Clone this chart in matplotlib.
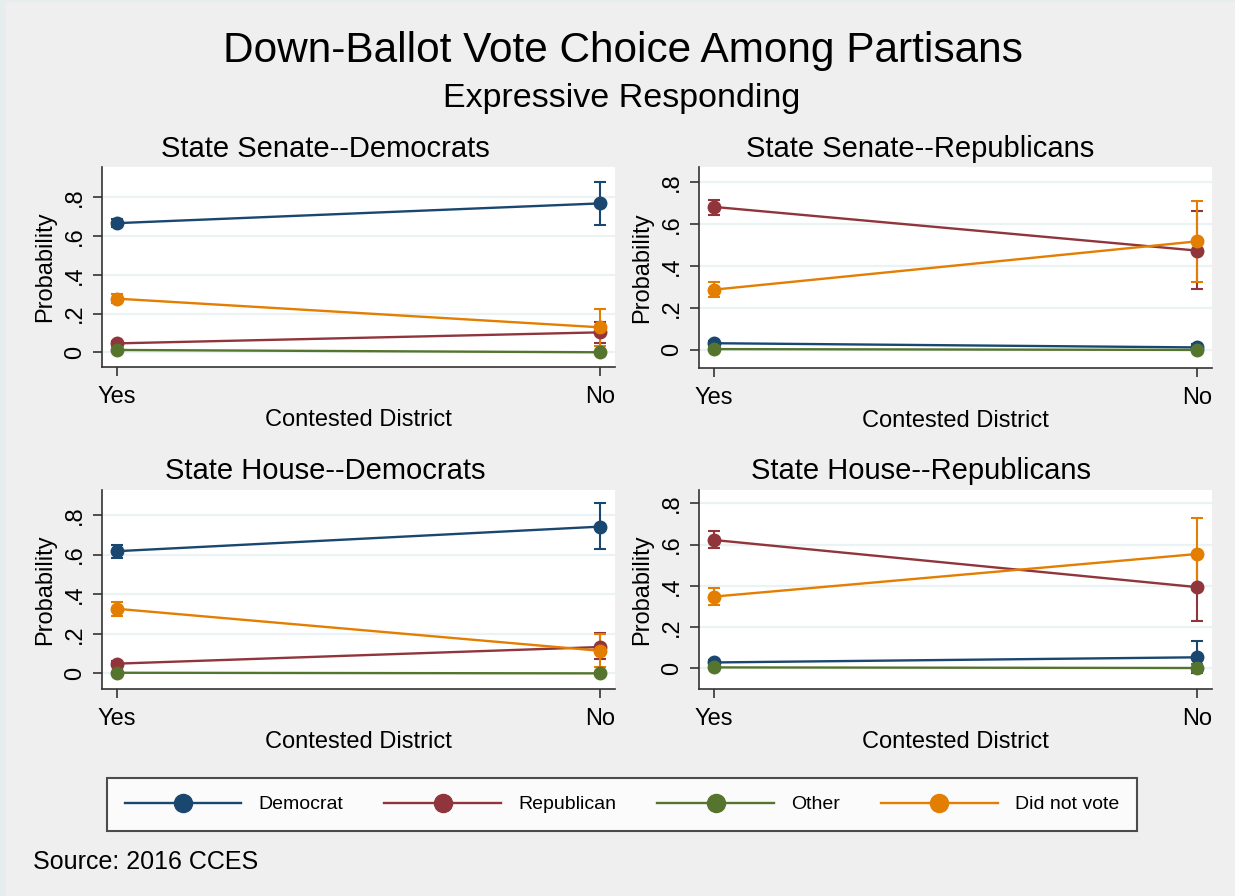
import numpy as np
import matplotlib.pyplot as plt
from matplotlib.lines import Line2D
from matplotlib.patches import Rectangle

plt.rcParams['font.family'] = ['Liberation Sans', 'DejaVu Sans']

x_labels = ["Yes", "No"]
parties = ["Democrat", "Republican", "Other", "Did not vote"]
colors = ["#1a476f", "#90353b", "#55752f", "#e37e00"]

panel_titles = ["State Senate--Democrats", "State Senate--Republicans",
                "State House--Democrats", "State House--Republicans"]

# predicted probabilities (Yes, No) per party, with 95% CI bounds
senate_dem_est = [[0.667, 0.769], [0.046, 0.103], [0.012, 0.000], [0.277, 0.129]]
senate_dem_lo = [[0.645, 0.657], [0.035, 0.046], [0.006, -0.005], [0.255, 0.035]]
senate_dem_hi = [[0.690, 0.879], [0.057, 0.157], [0.018, 0.005], [0.300, 0.225]]

senate_rep_est = [[0.032, 0.012], [0.681, 0.473], [0.004, 0.000], [0.287, 0.517]]
senate_rep_lo = [[0.022, -0.005], [0.644, 0.290], [0.000, -0.003], [0.252, 0.324]]
senate_rep_hi = [[0.042, 0.030], [0.716, 0.663], [0.008, 0.003], [0.322, 0.708]]

house_dem_est = [[0.617, 0.741], [0.049, 0.133], [0.003, 0.000], [0.326, 0.114]]
house_dem_lo = [[0.582, 0.627], [0.036, 0.074], [0.000, -0.003], [0.291, 0.030]]
house_dem_hi = [[0.650, 0.859], [0.062, 0.202], [0.006, 0.003], [0.361, 0.200]]

house_rep_est = [[0.027, 0.052], [0.622, 0.393], [0.003, 0.000], [0.347, 0.554]]
house_rep_lo = [[0.015, -0.025], [0.582, 0.228], [0.000, -0.020], [0.304, 0.381]]
house_rep_hi = [[0.039, 0.129], [0.666, 0.560], [0.006, 0.020], [0.388, 0.727]]

y_ticks = [0, 0.2, 0.4, 0.6, 0.8]
y_tick_labels = ["0", ".2", ".4", ".6", ".8"]

W, H = 1235, 896
fig = plt.figure(figsize=(W / 100, H / 100), dpi=100, facecolor="#e6eded")
fig.patches.append(Rectangle((6 / W, 0), 1, 1 - 2 / H, transform=fig.transFigure,
                             facecolor="#efefef", edgecolor="none", zorder=-10))


def add_panel(box):
    # box is (left, top, right, bottom) in pixels
    left, top, right, bottom = box
    return fig.add_axes([left / W, 1 - bottom / H, (right - left) / W, (bottom - top) / H])


panels = [
    (senate_dem_est, senate_dem_lo, senate_dem_hi, (102, 167, 615, 367), (-0.076, 0.957), (325, 149)),
    (senate_rep_est, senate_rep_lo, senate_rep_hi, (699, 167, 1212, 368), (-0.086, 0.871), (920, 149)),
    (house_dem_est, house_dem_lo, house_dem_hi, (102, 490, 615, 689), (-0.079, 0.926), (325, 471)),
    (house_rep_est, house_rep_lo, house_rep_hi, (699, 490, 1212, 689), (-0.102, 0.865), (921, 471)),
]

x = np.arange(len(x_labels))
for (est, lo, hi, box, ylim, tpos), title in zip(panels, panel_titles):
    ax = add_panel(box)
    ax.set_facecolor("white")
    for yt in y_ticks:
        ax.axhline(yt, color="#eaf2f3", lw=1.6, zorder=0)
    for i, c in enumerate(colors):
        e = np.array(est[i])
        err = [e - np.array(lo[i]), np.array(hi[i]) - e]
        ax.errorbar(x, e, yerr=err, fmt="-o", color=c, lw=1.7, ms=9,
                    capsize=4.5, elinewidth=1.5, capthick=1.5, zorder=3)
    ax.set_xlim(-0.031, 1.031)
    ax.set_ylim(*ylim)
    ax.set_xticks(x)
    ax.set_xticklabels(x_labels)
    ax.set_yticks(y_ticks)
    ax.set_yticklabels(y_tick_labels, rotation=90, va="center")
    for s in ["top", "right"]:
        ax.spines[s].set_visible(False)
    for s in ["left", "bottom"]:
        ax.spines[s].set_color("#333333")
        ax.spines[s].set_linewidth(1.2)
    ax.tick_params(direction="out", length=6.5, width=1.2, color="#333333",
                   labelsize=17, pad=5)
    ax.tick_params(axis="x", pad=7)
    ax.set_xlabel("Contested District", fontsize=17, labelpad=1)
    ax.set_ylabel("Probability", fontsize=17, labelpad=6)
    fig.text(tpos[0] / W, 1 - tpos[1] / H, title, fontsize=21, ha="center", va="center")

fig.text(623 / W, 1 - 51 / H, "Down-Ballot Vote Choice Among Partisans",
         fontsize=30.5, ha="center", va="center")
fig.text(622 / W, 1 - 99 / H, "Expressive Responding", fontsize=24.5, ha="center", va="center")

handles = [Line2D([], [], color=c, lw=1.7, marker="o", ms=13) for c in colors]
leg = fig.legend(handles, parties, loc="center", ncol=4, mode="expand",
                 bbox_to_anchor=(107 / W, 1 - 832 / H, 1030 / W, 55 / H),
                 borderaxespad=0, fontsize=14, handlelength=6.0, handletextpad=0.9,
                 frameon=True, fancybox=False, borderpad=0.9)
leg.get_frame().set_edgecolor("#222222")
leg.get_frame().set_linewidth(1.5)

fig.text(33 / W, 1 - 862 / H, "Source: 2016 CCES", fontsize=18, ha="left", va="center")

fig.savefig("out.png", dpi=100, facecolor=fig.get_facecolor())
